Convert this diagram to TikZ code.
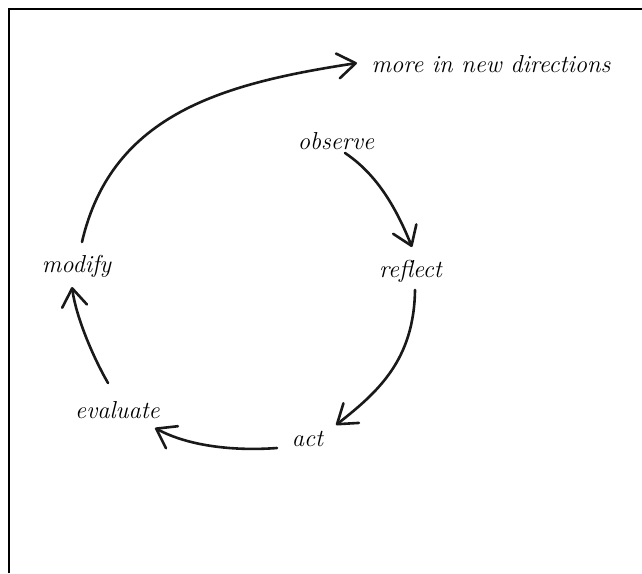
\documentclass[tikz,border=0pt]{standalone}
\usetikzlibrary{arrows.meta}
\begin{document}
\begin{tikzpicture}[x=1pt,y=-1pt,
  lbl/.style={font=\fontsize{24.5}{29}\selectfont\itshape, inner sep=0pt, anchor=base},
  arr/.style={line width=2.6pt, line cap=round, draw=black!90,
    -{Straight Barb[length=18pt,width=25pt,line cap=round,line join=round]}},
  frame/.style={line width=2pt}]
\useasboundingbox (0,0) rectangle (642,573);
\draw[frame] (8.5,573) -- (8.5,8.5) -- (642,8.5);
\node[lbl] (more) at (491,72) {more in new directions};
\node[lbl] (observe) at (336,149) {observe};
\node[lbl] (reflect) at (410.5,277) {reflect};
\node[lbl] (act) at (307.5,446) {act};
\node[lbl] (evaluate) at (117.5,418) {evaluate};
\node[lbl] (modify) at (76.5,272) {modify};
\draw[arr] ([shift={(9,4)}]observe.base) .. controls +(33,22) and +(-15,-37) .. ([shift={(1.5,-30)}]reflect.base);
\draw[arr] ([shift={(4.5,13)}]reflect.base) .. controls +(-1,70) and +(42,-33) .. ([shift={(28.5,-21)}]act.base);
\draw[arr] ([shift={(-30.5,2)}]act.base) .. controls +(-40,3) and +(35,19) .. ([shift={(37.5,10)}]evaluate.base);
\draw[arr] ([shift={(-9.5,-35)}]evaluate.base) .. controls +(-15,-26) and +(4,30) .. ([shift={(-4.5,15)}]modify.base);
\draw[arr] ([shift={(5.5,-30)}]modify.base) .. controls +(30,-130) and +(-130,20) .. ([shift={(-134,-9)}]more.base);
\end{tikzpicture}
\end{document}
